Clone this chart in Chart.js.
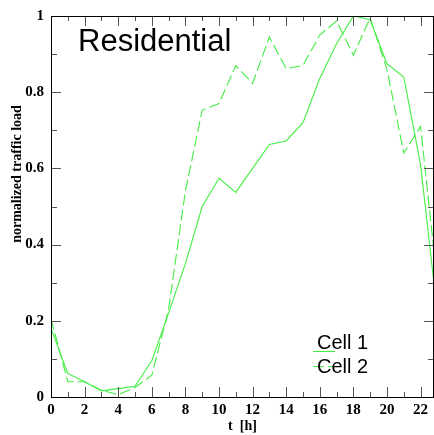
<!DOCTYPE html>
<html>
<head>
<meta charset="utf-8">
<script src="https://cdn.jsdelivr.net/npm/chart.js@4/dist/chart.umd.min.js"></script>
<style>
  body { margin: 0; background: #fff; }
  canvas { display: block; }
</style>
</head>
<body>
<canvas id="trafficChart" width="434" height="435"></canvas>
<script>
const hours = [0, 1, 2, 3, 4, 5, 6, 7, 8, 9, 10, 11, 12, 13, 14, 15, 16, 17, 18, 19, 20, 21, 22, 23];
const cell1 = [0.18, 0.062, 0.04, 0.016, 0.022, 0.028, 0.095, 0.22, 0.35, 0.5, 0.574, 0.537, 0.6, 0.663, 0.672, 0.72, 0.836, 0.927, 1.0, 0.99, 0.875, 0.84, 0.61, 0.22];
const cell2 = [0.205, 0.04, 0.04, 0.018, 0.006, 0.025, 0.057, 0.23, 0.54, 0.753, 0.77, 0.87, 0.823, 0.945, 0.862, 0.87, 0.95, 0.987, 0.897, 0.995, 0.86, 0.64, 0.71, 0.3];
const seriesNames = ["Cell 1", "Cell 2"];
const xTickLabels = ["0", "2", "4", "6", "8", "10", "12", "14", "16", "18", "20", "22"];
const yTickLabels = ["0", "0.2", "0.4", "0.6", "0.8", "1"];
const chartTitle = "Residential";
const yTitle = "normalized traffic load";

const green = "#44ee44";
const tickFont = { family: "Liberation Serif", size: 15, weight: "bold" };

function toPoints(values) {
  return hours.map((h, i) => ({ x: h, y: values[i] }));
}

// frame, inward ticks, title text, y title and legend
const decorations = {
  id: "decorations",
  afterDraw(chart) {
    const ctx = chart.ctx;
    const area = chart.chartArea;
    const xs = chart.scales.x;
    const ys = chart.scales.y;
    ctx.save();

    ctx.strokeStyle = "#555";
    ctx.lineWidth = 1;
    ctx.beginPath();
    for (let h = 0; h <= 22; h++) {
      const px = Math.round(xs.getPixelForValue(h)) + 0.5;
      const len = h % 2 === 0 ? 10 : 5;
      ctx.moveTo(px, area.bottom);
      ctx.lineTo(px, area.bottom - len);
      ctx.moveTo(px, area.top);
      ctx.lineTo(px, area.top + len);
    }
    for (let k = 0; k <= 10; k++) {
      const py = Math.round(ys.getPixelForValue(k / 10)) + 0.5;
      const len = k % 2 === 0 ? 10 : 6;
      ctx.moveTo(area.left, py);
      ctx.lineTo(area.left + len, py);
      ctx.moveTo(area.right, py);
      ctx.lineTo(area.right - len, py);
    }
    ctx.stroke();

    ctx.strokeStyle = "#000";
    ctx.strokeRect(Math.round(area.left) + 0.5, Math.round(area.top) + 0.5,
      Math.round(area.right - area.left) - 1, Math.round(area.bottom - area.top));

    ctx.fillStyle = "#000";
    ctx.font = "31px 'Liberation Sans'";
    ctx.textBaseline = "alphabetic";
    ctx.fillText(chartTitle, 78, 51);

    ctx.save();
    ctx.translate(17, 174);
    ctx.rotate(-Math.PI / 2);
    ctx.font = "bold 14px 'Liberation Serif'";
    ctx.textAlign = "center";
    ctx.textBaseline = "middle";
    ctx.fillText(yTitle, 0, 0);
    ctx.restore();

    // legend
    const rows = [{ lineY: 351, textY: 349 }, { lineY: 366, textY: 373 }];
    chart.data.datasets.forEach((ds, i) => {
      ctx.strokeStyle = ds.borderColor;
      ctx.lineWidth = ds.borderWidth;
      ctx.setLineDash(ds.borderDash || []);
      ctx.beginPath();
      ctx.moveTo(313, rows[i].lineY + 0.5);
      ctx.lineTo(335, rows[i].lineY + 0.5);
      ctx.stroke();
      ctx.setLineDash([]);
      ctx.fillStyle = "#000";
      ctx.font = "20px 'Liberation Sans'";
      ctx.fillText(ds.label, 317, rows[i].textY);
    });
    ctx.restore();
  },
};

new Chart(document.getElementById("trafficChart"), {
  type: "line",
  data: {
    datasets: [
      {
        label: seriesNames[0],
        data: toPoints(cell1),
        borderColor: green,
        borderWidth: 1.1,
        pointRadius: 0,
        tension: 0,
      },
      {
        label: seriesNames[1],
        data: toPoints(cell2),
        borderColor: green,
        borderWidth: 1.1,
        borderDash: [11, 4],
        pointRadius: 0,
        tension: 0,
      },
    ],
  },
  options: {
    responsive: false,
    animation: false,
    devicePixelRatio: 1,
    layout: { padding: { top: 12, right: 0, left: 0, bottom: 0 } },
    plugins: {
      legend: { display: false },
      tooltip: { enabled: false },
    },
    scales: {
      x: {
        type: "linear",
        min: 0,
        max: 22.8,
        afterFit: (s) => { s.height = 38; },
        afterBuildTicks: (s) => {
          s.ticks = xTickLabels.map((l) => ({ value: Number(l) }));
        },
        grid: { display: false, drawTicks: false },
        border: { display: false },
        ticks: {
          autoSkip: false,
          maxRotation: 0,
          padding: 4,
          color: "#000",
          font: tickFont,
          callback: (v) => xTickLabels[xTickLabels.indexOf(String(v))],
        },
        title: {
          display: true,
          text: "t  [h]",
          color: "#000",
          font: { family: "Liberation Serif", size: 14, weight: "bold" },
          padding: 0,
        },
      },
      y: {
        min: 0,
        max: 1,
        afterFit: (s) => { s.width = 51; },
        grid: { display: false, drawTicks: false },
        border: { display: false },
        ticks: {
          stepSize: 0.2,
          padding: 7,
          color: "#000",
          font: tickFont,
          callback: (v) => yTickLabels[Math.round(v * 5)],
        },
      },
    },
  },
  plugins: [decorations],
});
</script>
</body>
</html>
